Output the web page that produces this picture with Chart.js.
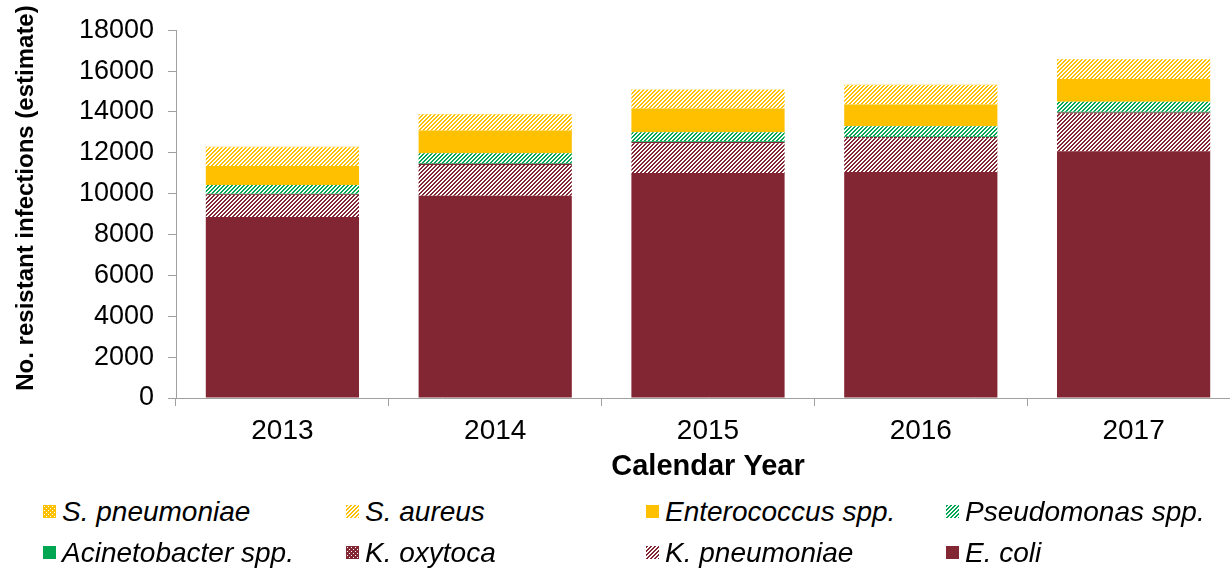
<!DOCTYPE html>
<html>
<head>
<meta charset="utf-8">
<script src="https://cdn.jsdelivr.net/npm/chart.js@4.4.1/dist/chart.umd.min.js"></script>
<style>
  html, body { margin: 0; padding: 0; background: #fff; overflow: hidden; }
  #wrap { position: relative; width: 1230px; height: 568px; overflow: hidden; }
  #chart { position: absolute; left: 0; top: 0; }
  #legend {
    position: absolute; left: 43px; top: 491px;
    display: grid; grid-template-columns: 303px 300px 300px 290px;
    grid-auto-rows: 41px;
    font: italic 28px "Liberation Sans", Arial, sans-serif; color: #000;
  }
  #legend .item { display: flex; align-items: center; white-space: nowrap; }
  #legend canvas { margin-right: 6px; }
</style>
</head>
<body>
<div id="wrap">
  <canvas id="chart" width="1240" height="490"></canvas>
  <div id="legend"></div>
</div>
<script>
  const years = ["2013", "2014", "2015", "2016", "2017"];

  // stacked from the bottom up
  const eColi         = [8860, 9900, 11010, 11060, 12070];
  const kPneumoniae   = [1080, 1500, 1460, 1650, 1845];
  const kOxytoca      = [30, 60, 60, 60, 60];
  const acinetobacter = [25, 40, 40, 40, 40];
  const pseudomonas   = [435, 480, 435, 485, 485];
  const enterococcus  = [920, 1115, 1165, 1065, 1115];
  const sAureus       = [920, 780, 910, 950, 960];
  const sPneumoniae   = [20, 20, 20, 20, 20];

  const yTitle = "No. resistant infections (estimate)";

  const MAROON = "#832633";
  const GOLD   = "#ffc000";
  const GREEN  = "#00a651";

  function pattern(color, kind) {
    const c = document.createElement("canvas");
    c.width = 4; c.height = 4;
    const g = c.getContext("2d");
    g.fillStyle = "#fff";
    g.fillRect(0, 0, 4, 4);
    g.fillStyle = color;
    for (let y = 0; y < 4; y++) {
      for (let x = 0; x < 4; x++) {
        let on;
        if (kind === "hatch") on = ((x + y) % 4) < 2;
        else on = !(x === 1 && y === 1) && !(x === 3 && y === 3);
        if (on) g.fillRect(x, y, 1, 1);
      }
    }
    return g.createPattern(c, "repeat");
  }

  const series = [
    { label: "E. coli",            data: eColi,         fill: () => MAROON },
    { label: "K. pneumoniae",      data: kPneumoniae,   fill: () => pattern(MAROON, "hatch") },
    { label: "K. oxytoca",         data: kOxytoca,      fill: () => pattern(MAROON, "dots") },
    { label: "Acinetobacter spp.", data: acinetobacter, fill: () => GREEN },
    { label: "Pseudomonas spp.",   data: pseudomonas,   fill: () => pattern(GREEN, "hatch") },
    { label: "Enterococcus spp.",  data: enterococcus,  fill: () => GOLD },
    { label: "S. aureus",          data: sAureus,       fill: () => pattern(GOLD, "hatch") },
    { label: "S. pneumoniae",      data: sPneumoniae,   fill: () => pattern(GOLD, "dots") }
  ];

  const FONT = "'Liberation Sans', Arial, sans-serif";
  const AXIS = "#a0a0a0";

  const datasets = series.map(s => ({
    label: s.label,
    data: s.data,
    backgroundColor: s.fill(),
    borderWidth: 0,
    categoryPercentage: 1,
    barPercentage: 0.72
  }));

  // y title sits a bit above the plot centre in the reference, so draw it here
  const yTitlePlugin = {
    id: "yTitle",
    afterDraw(chart) {
      const ctx = chart.ctx;
      ctx.save();
      ctx.translate(26, 198);
      ctx.rotate(-Math.PI / 2);
      ctx.font = "bold 24px " + FONT;
      ctx.fillStyle = "#000";
      ctx.textAlign = "center";
      ctx.textBaseline = "middle";
      ctx.fillText(yTitle, 0, 0);
      ctx.restore();
    }
  };

  new Chart(document.getElementById("chart"), {
    type: "bar",
    data: { labels: years, datasets },
    plugins: [yTitlePlugin],
    options: {
      responsive: false,
      animation: false,
      layout: { padding: { top: 26, right: 0, bottom: 0, left: 0 } },
      plugins: { legend: { display: false }, tooltip: { enabled: false } },
      scales: {
        x: {
          stacked: true,
          afterFit: s => { s.height = 92; },
          grid: { drawOnChartArea: false, tickLength: 8, color: AXIS },
          border: { color: AXIS },
          ticks: { color: "#000", padding: 8, font: { family: FONT, size: 28 } },
          title: { display: true, text: "Calendar Year", color: "#000",
                   padding: { top: 0, bottom: 6 }, font: { family: FONT, size: 29, weight: "bold" } }
        },
        y: {
          stacked: true,
          min: 0, max: 18000,
          afterFit: s => { s.width = 176; },
          grid: { drawOnChartArea: false, tickLength: 8, color: AXIS },
          border: { color: AXIS },
          ticks: { stepSize: 2000, color: "#000", padding: 14,
                   font: { family: FONT, size: 27 }, callback: v => String(v) }
        }
      }
    }
  });

  // legend: same reversed order as the reference, four columns
  const legendEl = document.getElementById("legend");
  series.slice().reverse().forEach(s => {
    const item = document.createElement("div");
    item.className = "item";
    const sw = document.createElement("canvas");
    sw.width = 13; sw.height = 13;
    const g = sw.getContext("2d");
    g.fillStyle = s.fill();
    g.fillRect(0, 0, 13, 13);
    const txt = document.createElement("span");
    txt.textContent = s.label;
    item.appendChild(sw);
    item.appendChild(txt);
    legendEl.appendChild(item);
  });
</script>
</body>
</html>
